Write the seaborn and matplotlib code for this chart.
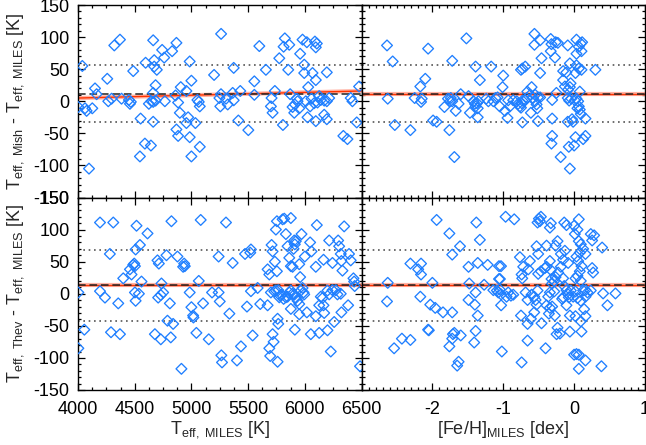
import numpy as np
import pandas as pd
import matplotlib
matplotlib.use("Agg")
import matplotlib.pyplot as plt
from matplotlib.ticker import MultipleLocator, FixedLocator
import seaborn as sns

# ---------------- data ----------------
mish_teff = [4038, 4003, 4062, 4076, 4126, 4097, 4150, 4164, 4258, 4267, 4296, 4320, 4370, 4384,
             4449, 4466, 4458, 4487, 4552, 4546, 4596, 4590, 4643, 4625, 4663, 4672, 4672, 4695,
             4684, 4663, 4663, 4684, 4648, 4663, 4742, 4760, 4766, 4830, 4868, 4860, 4883, 4906,
             4898, 4868, 4883, 4956, 4971, 4956, 4985, 5000, 4985, 5000, 5035, 5053, 5065, 5074,
             5074, 5200, 5262, 5261, 5247, 5255, 5305, 5320, 5373, 5364, 5431, 5373, 5414, 5502,
             5555, 5555, 5599, 5657, 5707, 5701, 5716, 5736, 5775, 5807, 5813, 5824, 5863, 5854,
             5871, 5892, 5912, 5936, 5930, 5951, 5907, 5959, 5980, 6018, 5995, 5995, 6030, 6024,
             6068, 6097, 6089, 6106, 6097, 6009, 6047, 6059, 6083, 6112, 6127, 6141, 6171, 6194,
             6215, 6097, 6171, 6194, 6194, 6340, 6376, 6405, 6420, 6458, 6479]
mish_dteff_t = [55, -9, -11, -15, -11, -105, 20, 11, 35, 0, 4, 87, 96, 4,
                2, -1, -4, 47, -27, -86, 60, -66, -69, -4, 95, 64, 54, 49,
                25, 13, -1, 1, 0, -32, 80, 68, 0, 78, 91, 9, -2, 22,
                -18, -44, -54, 16, -25, -34, 62, 32, -56, -86, -34, 2, -1, -8,
                -71, 41, 105, 11, 5, -8, 4, -5, 1.5, 13, 16, 52, -30, -45,
                31, 10, 86, 49, 5, -8, -18, 16, 67, -37, 85, 98, 88, 49,
                11, -9, -5, 0, 4, -11, -18, 74, 96, 92, 57, 44, 22, -25,
                44, 33, 93, 90, 84, 0, -8, 4, -3, -2, 8, 2, 1, 0,
                5, -31, -21, -28, 45, -54, -59, 5, 0, -33, 23]

mish_feh = [-2.64, -2.63, -2.56, -2.53, -2.31, -2.25, -2.17, -2.10, -2.15, -2.16, -2.06, -1.99,
            -1.94, -1.83, -1.76, -1.78, -1.75, -1.72, -1.74, -1.72, -1.69, -1.67, -1.63, -1.60,
            -1.52, -1.49, -1.47, -1.42, -1.40, -1.39, -1.37, -1.36, -1.35, -1.36, -1.39, -1.33,
            -1.24, -1.21, -1.17, -1.14, -1.11, -1.08, -1.05, -1.00, -1.01, -0.976, -0.94, -0.906,
            -0.93, -0.86, -0.81, -0.79, -0.765, -0.74, -0.73, -0.75, -0.69, -0.67, -0.66, -0.62,
            -0.60, -0.58, -0.55, -0.53, -0.52, -0.51, -0.55, -0.48, -0.61, -0.73, -0.51, -0.75,
            -0.69, -0.73, -0.48, -0.46, -0.56, -0.56, -0.48, -0.33, -0.32, -0.26, -0.23, -0.33,
            -0.27, -0.31, -0.25, -0.31, -0.31, -0.32, -0.19, -0.155, -0.11, -0.155, -0.13, -0.085,
            -0.06, -0.05, -0.09, -0.07, -0.04, -0.06, -0.09, -0.03, -0.075, -0.06, -0.09, 0.033,
            0.066, 0.094, 0.113, 0.033, 0.104, 0.033, 0.066, 0.104, 0.019, 0.01, 0.033, 0.057,
            0.066, 0.08, 0.047, 0.094, 0.16, 0.08, 0.019, 0.0, 0.16, 0.127, 0.30, -0.014]
mish_dteff_f = [87, 4, 62, -37, -45, 5, 23, 35, 4, -1, 82, -30,
                -32, -9, -45, 4, 0, 0, 5, 63, -87, -15, -4, 11,
                98, 8, -18, 0, -4, -8, -3, -11, 0, -25, 54, 33,
                4, 0, 54, 0, 5, 6, -8, 40, 22, -15, -26, -8,
                1.5, 1.5, 0, -4, -8, -3, 1, -10, 1.5, 5, 15, 10,
                22, 5, 0, -5, -11, 6, 10, 6, -18, -33, -31, 49,
                54, 51, 44, 67, 105, 88, 95, 97, 89, 92, 91, 78,
                68, 2, 13, -27, -54, -66, -87, 47, 45, 33, 23, 18,
                22, 28, 5, 1, 4, 59, -32, -28, -71, -105, 87, 96,
                85, 90, 92, 74, 78, 56, 51, 49, 44, 1.5, 4, 0,
                -8, -13, -11, -20, -27, 15, -56, -69, -54, -59, 49, -32]

thev_teff = [4194, 4311, 4516, 4613, 4824, 5082, 4546, 4508, 4281, 4496, 4487, 4502, 4458, 4472,
             4399, 4560, 4701, 4713, 4780, 4877, 4936, 4942, 4927, 4736, 5065, 5240, 4003, 4194,
             4238, 4355, 4502, 4537, 4508, 4751, 4730, 4707, 4810, 4985, 5000, 5103, 5015, 5018,
             5182, 5240, 5250, 4789, 4839, 4056, 4291, 4370, 4678, 4730, 4818, 5044, 5153, 4003,
             4912, 5264, 5270, 5305, 5364, 5335, 5525, 5519, 5473, 5525, 5584, 5490, 5540, 5402,
             5437, 5607, 5672,
             5672, 5687, 5707, 5716, 5736, 5754, 5745, 5754, 5804, 5819, 5877, 5833, 5848, 5863,
             5877, 5892, 5907, 5912, 5901, 5921, 5951, 5959, 5971, 6000, 6047, 6059, 6097, 6106,
             6165, 6215, 6244, 6294, 6303, 6323, 6347, 6332, 6317, 6390, 6405, 6429, 6435, 6440,
             5701, 5731, 5745, 5766, 5783, 5775, 5795, 5813, 5833, 5848, 5863, 5877, 5892, 5907,
             5921, 5936, 5951, 5965, 5980, 5989, 5995, 5877, 5951, 6018, 6097, 6127, 6141, 6156,
             6165, 6171, 6200, 6215, 6244, 6273, 6288, 6317, 6382, 6323, 5760, 5766, 5912, 5716,
             5725, 5687, 5695, 5760, 6053, 6127, 6200, 6229, 6259, 6487]
thev_dteff_t = [111, 111, 106, 94, 113, 115, 76, 69, 62, 47, 45, 43, 38, 30,
                24, 19, 52, 47, 60, 58, 47, 43, 42, 16, 20, 58, 2, 4,
                -6, -15, 2, 0, -11, 2, -2, -6, -15, 2, -21, -15, -34, -37,
                2, 2, -12, -42, -47, -56, -60, -63, -63, -71, -68, -61, -71, -85,
                -117, -96, -107, 111, 48, -31, 69, 64, 62, 4, 9, -20, -65, -104,
                -82, -16, -18,
                38, 30, 76, 66, 50, 35, 100, 113, 116, 117, 118, 93, 74, 56,
                43, 42, 83, 77, 70, 82, 46, 26, 93, 58, 80, 66, 42, 107,
                53, 83, 48, 83, 74, 51, 105, 36, 62, 62, 52, 24, 19, 12,
                2, 3.6, 5, 5.6, -3, -5.6, -1.5, -8, -5.6, -4.6, 2, 5, 0, -1.5,
                -6.7, -11, -16, 5, 9, 2, -1, -23.6, -32, -29, -35, -18, -4.6, -6.7,
                -18, -30, 5, -1, 5.6, 5.6, -1, 0, -18, -29, -39, -47, -56, -63,
                -75, -85, -97, -106, -63, -61, -57, -90, -44, -113]

thev_feh = [-1.94, -1.38, -1.76, -1.33, -1.61, -1.72, -2.31, -2.16, -2.20, -2.16, -1.49, -1.36,
            -1.22, -1.06, -1.06, -2.63, -2.00, -1.48, -1.27, -1.14, -1.09, -1.07, -1.03, -1.05,
            -2.64, -2.17, -1.39, -1.49, -1.40, -1.36, -1.03, -2.03, -1.96, -1.85, -1.72, -2.06,
            -2.05, -2.43, -2.31, -2.54, -1.71, -1.69, -1.72, -1.60, -1.39, -1.41, -1.76, -1.63,
            -1.65, -1.02,
            -0.967, -0.845, -0.497, -0.469, -0.516, -0.483, -0.328, -0.342, -0.140, -0.108, 0.0, 0.066,
            0.047, 0.01, 0.235, 0.282, 0.254, 0.066, 0.094, 0.127, 0.08, 0.16, 0.033, 0.057,
            0.104, 0.08, 0.047, 0.019, 0.094, 0.254, 0.268, 0.395, 0.409, 0.47, 0.583,
            -1.032, -1.047, -0.953, -0.892, -0.765, -0.741, -0.732, -0.718, -0.624, -0.647, -0.685, -0.657,
            -0.60, -0.563, -0.544, -0.53, -0.516, -0.507, -0.469, -0.413, -0.389, -0.342, -0.328, -0.319,
            -0.31, -0.342, -0.366, -0.389, -0.342, -0.31, -0.281, -0.234, -0.262, -0.187, -0.155, -0.131,
            -0.084, -0.187, -0.225, -0.262, -0.281, -0.155, -0.14, -0.108, -0.084, -0.075, -0.047, -0.014,
            0.019, 0.047, 0.094, 0.127, 0.16, 0.188, 0.235, 0.16, 0.141, 0.16, 0.094, 0.019,
            -0.06, -0.155, -0.108, -0.169, -0.272, -0.234, -0.201, -0.248, -0.06, 0.104, -0.403, -0.657,
            -0.75, -0.657, -0.61, -0.563, -0.46, -0.356, 0.0, 0.033, 0.066, 0.16, 0.066, 0.385,
            -0.741, -0.859, -0.93, -0.389, -0.53, -0.507]
thev_dteff_f = [115, 111, 94, 84, 74, 61, 47, 47, 38, 30, 42, 48,
                45, 43, 23, 17, 17, 16, 14, 5.6, 5, 2, -1, 6.7,
                -12, -4.6, 2, -9.7, -17, -34, -18, -17, -22, -29, -29, -56,
                -57, -70, -72, -85, -63, -61, -70, -65, -58, -76, -82, -106,
                -112, -90,
                120, 116, 117, 120, 111, 113, 110, 103, 111, 107, 106, 116,
                100, 93, 93, 91, 83, 82, 77, 70, 64, 62, 58, 51,
                43, 35, 28, 24, 20, 40, 33, 72, 0.5, -18, 0.5,
                43, 23, -4.6, -3, 57, 30, 24, 42, 51, 38, 2, -9.7,
                -1.5, -4.6, -9.7, -17, 5, 31, 35, 40, 42, 51, 37, 23,
                16, 2, -4.6, -18, -22, -20, 3.6, 82, 75, 62, 53, 67,
                48, 42, 33, 26, 20, 24, 12, 5.6, -1, -5.6, 5, -4.6,
                3.6, -6.7, -11, 5, 5.6, 2, 5, -4.6, -24, -35, -43, -35,
                -34, -5.6, -18, -8, -34, -53, -62, -63, -59, -59, -85, -73,
                -34, -47, -39, -29, -46, -31, -95, -94, -95, -104, -117, -113,
                -107, -1.5, 2, 75, 74, 62]

# summary statistics drawn as reference lines (mean offset, +/- 1 sigma)
mish_mean, mish_hi, mish_lo = 12, 57, -32
thev_mean, thev_hi, thev_lo = 13, 68, -42
# linear fits: value at the left end, value at the right end of the x range
mish_fit_teff = (5, 16)
mish_fit_feh = (12, 12)
thev_fit_teff = (13, 13)
thev_fit_feh = (13, 13)

teff_range = (4000, 6500)
feh_range = (-3, 1)
teff_ticks = [4000, 4500, 5000, 5500, 6000, 6500]
feh_ticks = [-3, -2, -1, 0, 1]
feh_ticklabels = ['', '-2', '-1', '0', '1']
y_ticks = [-150, -100, -50, 0, 50, 100, 150]

# ---------------- style ----------------
sns.set_style("ticks")
plt.rcParams['font.family'] = ['Liberation Sans', 'DejaVu Sans']
plt.rcParams['mathtext.fontset'] = 'custom'
plt.rcParams['mathtext.rm'] = 'Liberation Sans'
plt.rcParams['mathtext.it'] = 'Liberation Sans'
plt.rcParams['axes.unicode_minus'] = False

blue = '#1f7fff'
FS = 13

fig = plt.figure(figsize=(6.46, 4.45), dpi=100)
L, W = 78 / 646, 283.5 / 646
H = 192.5 / 445
B_top, B_bot = 1 - 197.5 / 445, 1 - 390 / 445
ax_tl = fig.add_axes([L, B_top, W, H])
ax_tr = fig.add_axes([L + W, B_top, W, H])
ax_bl = fig.add_axes([L, B_bot, W, H])
ax_br = fig.add_axes([L + W, B_bot, W, H])

panels = [
    (ax_tl, mish_teff, mish_dteff_t, mish_fit_teff, teff_range, mish_mean, mish_hi, mish_lo),
    (ax_tr, mish_feh, mish_dteff_f, mish_fit_feh, feh_range, mish_mean, mish_hi, mish_lo),
    (ax_bl, thev_teff, thev_dteff_t, thev_fit_teff, teff_range, thev_mean, thev_hi, thev_lo),
    (ax_br, thev_feh, thev_dteff_f, thev_fit_feh, feh_range, thev_mean, thev_hi, thev_lo),
]

for ax, xs, ys, fit, xr, mean, hi, lo in panels:
    df = pd.DataFrame({'x': xs, 'y': ys})
    sns.scatterplot(data=df, x='x', y='y', ax=ax, marker='D', s=30,
                    color=blue, facecolor='none', edgecolor=blue, linewidth=0.95, zorder=3)
    ax.axhline(hi, color='#555555', lw=1.2, ls=(0, (1, 2.2)), zorder=2)
    ax.axhline(lo, color='#555555', lw=1.2, ls=(0, (1, 2.2)), zorder=2)
    ax.plot(list(xr), list(fit), color='#ff9f8c', lw=3.0, alpha=0.8, zorder=2, solid_capstyle='butt')
    ax.plot(list(xr), list(fit), color='#ff3300', lw=1.0, zorder=2)
    ax.axhline(mean, color='#222222', lw=1.1, ls=(0, (5, 2.5)), zorder=2)
    ax.set_xlim(*xr)
    ax.set_ylim(-150, 150)
    ax.set_xlabel('')
    ax.set_ylabel('')
    ax.yaxis.set_major_locator(FixedLocator(y_ticks))
    ax.yaxis.set_minor_locator(MultipleLocator(10))
    ax.tick_params(which='both', direction='in', top=True, right=True, bottom=True, left=True,
                   labelsize=FS, colors='black', width=0.9, pad=8)
    ax.tick_params(which='major', length=5)
    ax.tick_params(which='minor', length=2.5)
    ax.tick_params(axis='y', pad=6)
    for sp in ax.spines.values():
        sp.set_linewidth(1.0)
        sp.set_color('black')
    ax.set_facecolor('white')

for ax in (ax_tl, ax_bl):
    ax.xaxis.set_major_locator(FixedLocator(teff_ticks))
    ax.xaxis.set_minor_locator(MultipleLocator(125))
for ax in (ax_tr, ax_br):
    ax.xaxis.set_major_locator(FixedLocator(feh_ticks))
    ax.xaxis.set_minor_locator(MultipleLocator(0.1))

ax_tl.tick_params(labelbottom=False)
ax_tr.tick_params(labelbottom=False, labelleft=False)
ax_br.tick_params(labelleft=False)
ax_br.set_xticklabels(feh_ticklabels)
ax_bl.set_xticklabels([str(t) for t in teff_ticks])

ax_tl.set_ylabel(r'T$_{\mathrm{eff,\ Mish}}$ - T$_{\mathrm{eff,\ MILES}}$ [K]', fontsize=FS)
ax_bl.set_ylabel(r'T$_{\mathrm{eff,\ Thev}}$ - T$_{\mathrm{eff,\ MILES}}$ [K]', fontsize=FS)
ax_tl.yaxis.set_label_coords(-0.185, 0.5)
ax_bl.yaxis.set_label_coords(-0.185, 0.5)
ax_bl.set_xlabel(r'T$_{\mathrm{eff,\ MILES}}$ [K]', fontsize=FS)
ax_br.set_xlabel(r'[Fe/H]$_{\mathrm{MILES}}$ [dex]', fontsize=FS)
ax_bl.xaxis.set_label_coords(0.5, -0.15)
ax_br.xaxis.set_label_coords(0.5, -0.15)

fig.savefig('out.png', dpi=100, facecolor='white')
